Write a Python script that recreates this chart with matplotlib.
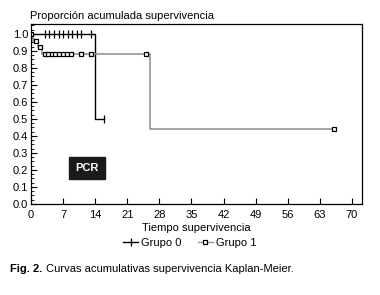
import matplotlib
matplotlib.use("Agg")
import matplotlib.pyplot as plt
from matplotlib.ticker import MultipleLocator
from matplotlib.lines import Line2D

plt.rcParams['font.family'] = ['Liberation Sans', 'DejaVu Sans']

# Group 0 (black, + censor marks)
g0_times = [0, 14, 16]
g0_surv = [1.0, 0.5, 0.5]
g0_cens_t = [3, 4, 5, 6, 7, 8, 9, 10, 11, 13, 16]
g0_cens_s = [1.0] * 10 + [0.5]

# Group 1 (gray line, square censor marks)
g1_times = [0, 0.5, 1.5, 2.5, 26, 66]
g1_surv = [1.0, 0.96, 0.92, 0.88, 0.44, 0.44]
g1_cens_t = [0, 1, 2, 3, 3.8, 4.5, 5.2, 6, 7, 7.8, 8.8, 10.8, 13, 25, 66]
g1_cens_s = [1.0, 0.96, 0.92] + [0.88] * 11 + [0.44]

xticks = [0, 7, 14, 21, 28, 35, 42, 49, 56, 63, 70]
yticks = [0.0, 0.1, 0.2, 0.3, 0.4, 0.5, 0.6, 0.7, 0.8, 0.9, 1.0]

fig = plt.figure(figsize=(3.8, 2.95), dpi=100)
ax = fig.add_axes([0.0816, 0.3085, 0.8710, 0.6101])

ax.step(g0_times, g0_surv, where='post', color='black', lw=1.0)
ax.plot(g0_cens_t, g0_cens_s, ls='none', marker='|', color='black', ms=5.5, mew=0.9)

ax.step(g1_times, g1_surv, where='post', color='#959595', lw=1.2)
ax.plot(g1_cens_t, g1_cens_s, ls='none', marker='s', mfc='white', mec='black', ms=3.2, mew=0.9)

ax.set_xlim(0, 72.2)
ax.set_ylim(0, 1.058)
ax.set_xticks(xticks)
ax.set_yticks(yticks)
ax.set_yticklabels([f"{v:.1f}" for v in yticks])
ax.yaxis.set_minor_locator(MultipleLocator(0.025))
ax.tick_params(axis='both', which='major', direction='in', length=4.5, width=0.8, labelsize=8)
ax.tick_params(axis='y', which='minor', direction='in', length=2, width=0.6)
ax.tick_params(axis='x', pad=4)
ax.tick_params(axis='y', pad=2)
for s in ax.spines.values():
    s.set_linewidth(0.9)

ax.set_xlabel('Tiempo supervivencia', fontsize=8, labelpad=2.5)

ax.text(12.2, 0.21, 'PCR', color='white', fontsize=8, fontweight='bold',
        ha='center', va='center',
        bbox=dict(boxstyle='square,pad=0.55', fc='#1a1a1a', ec='#1a1a1a'))

fig.text(0.079, 0.947, 'Proporción acumulada supervivencia', fontsize=8, ha='left', va='center')

handles = [Line2D([0], [0], color='black', lw=1.0, marker='|', ms=6, mew=0.9),
           Line2D([0], [0], color='#959595', lw=1.0, marker='s', mfc='white', mec='black', ms=3.2, mew=0.9)]
fig.legend(handles, ['Grupo 0', 'Grupo 1'], loc='center', bbox_to_anchor=(0.5, 0.176),
           ncol=2, frameon=False, fontsize=8, handlelength=1.3, handletextpad=0.3, columnspacing=1.5,
           borderpad=0)

fig.text(0.026, 0.088, 'Fig. 2.', fontsize=8, fontweight='bold', ha='left', va='center')
fig.text(0.12, 0.088, 'Curvas acumulativas supervivencia Kaplan-Meier.', fontsize=8, ha='left', va='center')

fig.savefig('out.png', dpi=100)
